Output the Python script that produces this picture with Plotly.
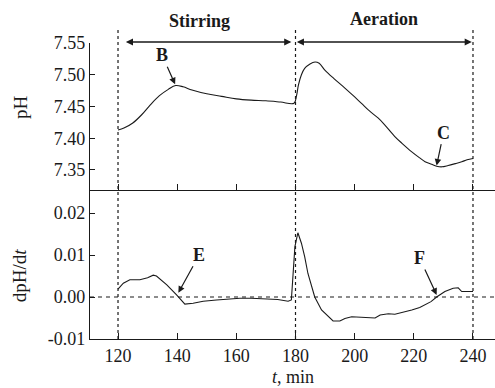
import plotly.graph_objects as go

# ---- data ----
t_ph = [120, 122, 125, 128, 131, 134, 137, 139.5, 142, 145, 150, 155, 160, 165, 170, 175, 179.5,
        180.3, 181, 182, 183.1, 184.9, 186.6, 188, 190, 193, 196.7, 200, 202.3, 205, 207.9, 210,
        213.5, 216, 219.2, 222, 223.8, 226, 227.7, 229.5, 231.6, 234, 236.2, 238, 240]
ph = [7.413, 7.416, 7.424, 7.437, 7.453, 7.467, 7.477, 7.483, 7.481, 7.476, 7.470, 7.466, 7.462,
      7.460, 7.459, 7.457, 7.455,
      7.466, 7.484, 7.500, 7.510, 7.517, 7.520, 7.518, 7.507, 7.494, 7.479, 7.465, 7.455, 7.443,
      7.432, 7.422, 7.403, 7.392, 7.379, 7.369, 7.363, 7.359, 7.356, 7.355, 7.357, 7.360, 7.363,
      7.366, 7.368]

t_d = [120, 121.8, 124, 127.4, 130, 131.9, 133, 136.5, 139.8, 142.6, 145.4, 148.8, 153.3, 161.2,
       165, 170, 174, 177.5, 178.6, 179.8, 180.8, 182, 183.1, 184.2, 185.4, 186.5, 188.8, 191,
       192.7, 195, 196.7, 199, 203, 206.9, 208.6, 211.4, 213.6, 216, 219.3, 222, 223.8, 225.8,
       227.7, 230.5, 233.3, 235, 236.2, 238, 240]
dph = [0.0019, 0.0033, 0.0041, 0.0041, 0.0046, 0.0052, 0.0050, 0.0029, 0.0005, -0.0017, -0.0015,
       -0.0010, -0.0007, -0.0003, -0.0003, -0.0004, -0.0006, -0.0010, -0.0007, 0.0120, 0.0153,
       0.0128, 0.0096, 0.0056, 0.0025, 0.0000, -0.0031, -0.0047, -0.0057, -0.0057, -0.0051,
       -0.0047, -0.0048, -0.0050, -0.0043, -0.0040, -0.0041, -0.0037, -0.0031, -0.0025, -0.0019,
       -0.0011, 0.0000, 0.0013, 0.0021, 0.0022, 0.0013, 0.0013, 0.0013]

x_ticks = [120, 140, 160, 180, 200, 220, 240]
x_tick_text = ["120", "140", "160", "180", "200", "220", "240"]
ph_ticks = [7.35, 7.40, 7.45, 7.50, 7.55]
ph_tick_text = ["7.35", "7.40", "7.45", "7.50", "7.55"]
d_ticks = [-0.01, 0.0, 0.01, 0.02]
d_tick_text = ["-0.01", "0.00", "0.01", "0.02"]

phase_bounds = [120, 180, 240]
phase_labels = ["Stirring", "Aeration"]

FONT = "Liberation Serif, Times New Roman, serif"
INK = "#1a1a1a"

fig = go.Figure()
fig.add_trace(go.Scatter(x=t_ph, y=ph, mode="lines", line=dict(color=INK, width=1.1),
                         xaxis="x", yaxis="y", showlegend=False, line_shape="spline"))
fig.add_trace(go.Scatter(x=t_d, y=dph, mode="lines", line=dict(color=INK, width=1.1),
                         xaxis="x2", yaxis="y2", showlegend=False))

xr = [110.53, 247.44]
axis_common = dict(showline=True, linecolor=INK, linewidth=1.3, ticks="inside",
                   tickcolor=INK, showgrid=False, zeroline=False,
                   tickfont=dict(family=FONT, size=18, color=INK))

fig.update_layout(
    width=495, height=388,
    margin=dict(l=90, r=0, t=43, b=49),
    paper_bgcolor="white", plot_bgcolor="white",
    font=dict(family=FONT, color=INK),
    xaxis=dict(range=xr, domain=[0, 1], anchor="y", tickvals=x_ticks, ticktext=x_tick_text,
               showticklabels=False, ticklen=6, **axis_common),
    yaxis=dict(range=[7.3185, 7.55], domain=[0.5034, 1], anchor="x", tickvals=ph_ticks,
               ticktext=ph_tick_text, ticklen=5, **axis_common),
    xaxis2=dict(range=xr, domain=[0, 1], anchor="y2", tickvals=x_ticks, ticktext=x_tick_text,
                ticklen=6, **axis_common),
    yaxis2=dict(range=[-0.01, 0.02548], domain=[0, 0.5034], anchor="x2", tickvals=d_ticks,
                ticktext=d_tick_text, ticklen=5, **axis_common),
)

shapes = []
for b in phase_bounds:
    shapes.append(dict(type="line", xref="x", yref="paper", x0=b, x1=b, y0=0, y1=1.044,
                       line=dict(color=INK, width=1.2, dash="dot")))
shapes.append(dict(type="line", xref="paper", yref="y2", x0=0, x1=1, y0=0, y1=0,
                   line=dict(color=INK, width=1.1, dash="4px,4px")))
fig.update_layout(shapes=shapes)

ann = []
# double arrows
ann.append(dict(x=178.6, y=1.0034, xref="x", yref="paper", ax=-167, ay=0, text="",
                showarrow=True, arrowhead=2, arrowside="end+start", arrowsize=1.1,
                arrowwidth=1.3, arrowcolor=INK))
ann.append(dict(x=239.6, y=1.0034, xref="x", yref="paper", ax=-176.5, ay=0, text="",
                showarrow=True, arrowhead=2, arrowside="end+start", arrowsize=1.1,
                arrowwidth=1.3, arrowcolor=INK))
ann.append(dict(x=(phase_bounds[0] + phase_bounds[1]) / 2 - 2.3, y=1.074, xref="x", yref="paper",
                xanchor="center", yanchor="middle",
                text="<b>%s</b>" % phase_labels[0], showarrow=False,
                font=dict(family=FONT, size=18, color=INK)))
ann.append(dict(x=(phase_bounds[1] + phase_bounds[2]) / 2 - 0.1, y=1.081, xref="x", yref="paper",
                xanchor="center", yanchor="middle",
                text="<b>%s</b>" % phase_labels[1], showarrow=False,
                font=dict(family=FONT, size=18, color=INK)))
# point labels
pts = [("B", 139.3, 7.485, "y", -13, -29, "x"),
       ("C", 227.7, 7.357, "y", 7, -33, "x"),
       ("E", 140.4, 0.001, "y2", 21, -38, "x2"),
       ("F", 227.7, 0.0005, "y2", -17, -37, "x2")]
for txt, px, py, yr, ax, ay, xrf in pts:
    ann.append(dict(x=px, y=py, xref=xrf, yref=yr, ax=ax, ay=ay, text="<b>%s</b>" % txt,
                    showarrow=True, arrowhead=2, arrowsize=1.1, arrowwidth=1.2,
                    arrowcolor=INK, standoff=0, font=dict(family=FONT, size=18, color=INK)))
# axis titles
ann.append(dict(x=-0.170, y=0.784, xref="paper", yref="paper", text="pH", textangle=-90,
                xanchor="center", yanchor="middle",
                showarrow=False, font=dict(family=FONT, size=19, color=INK)))
ann.append(dict(x=-0.175, y=0.216, xref="paper", yref="paper", text="dpH/d<i>t</i>",
                xanchor="center", yanchor="middle",
                textangle=-90, showarrow=False, font=dict(family=FONT, size=19, color=INK)))
ann.append(dict(x=0.5, y=-0.129, xref="paper", yref="paper", text="<i>t</i>, min",
                xanchor="center", yanchor="middle",
                showarrow=False, font=dict(family=FONT, size=18, color=INK)))
fig.update_layout(annotations=ann)

fig.write_html("out.html")
